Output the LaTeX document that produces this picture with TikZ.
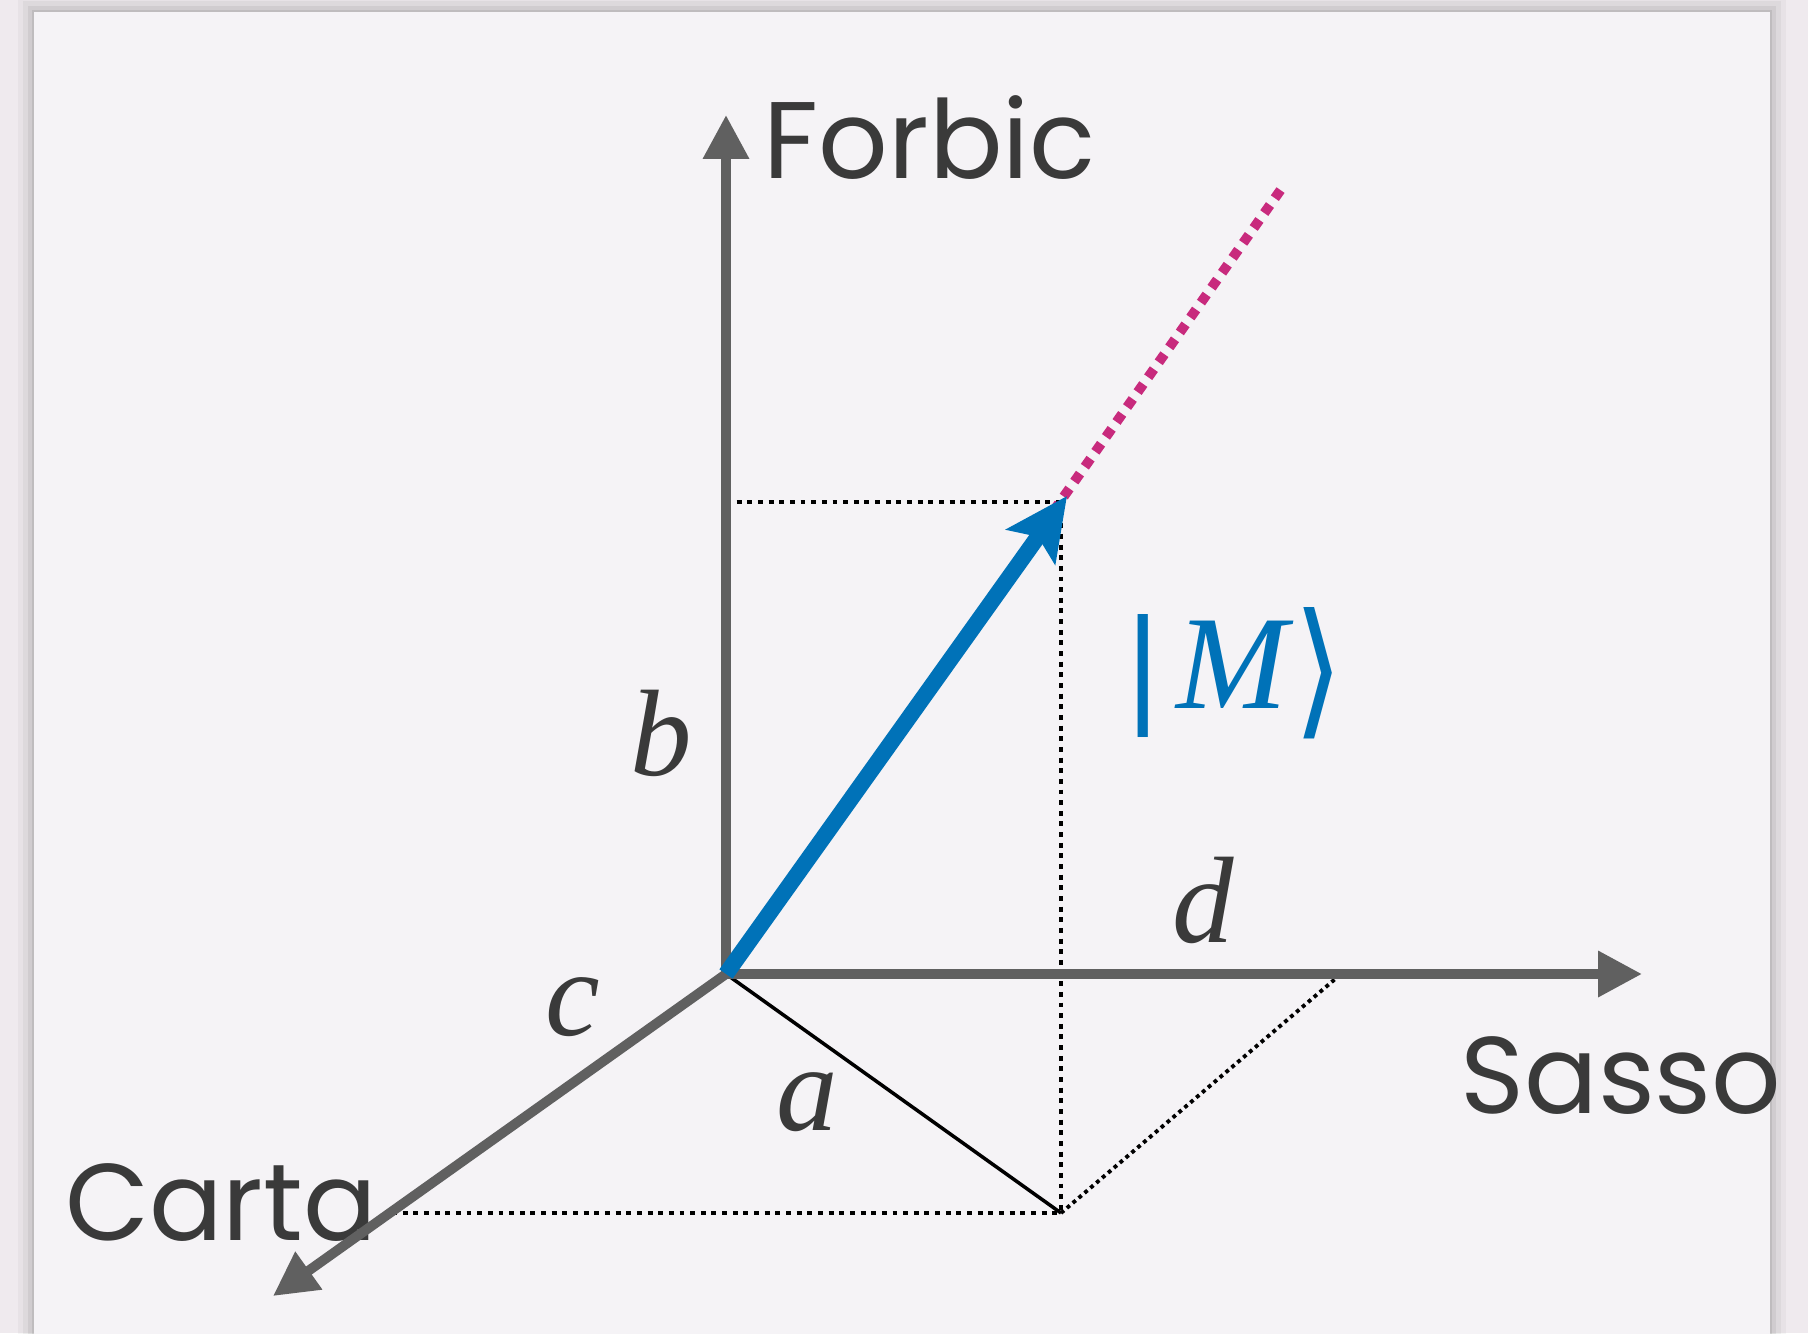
\documentclass[tikz,border=0pt]{standalone}
\usepackage{fontspec}
\setmainfont{Liberation Serif}
\newfontfamily\axisfont{Poppins}
\newfontfamily\ketfont{DejaVu Sans}
\usetikzlibrary{arrows.meta}
\definecolor{pagebg}{RGB}{239,234,238}
\definecolor{cardbg}{RGB}{245,243,246}
\definecolor{axisgrey}{RGB}{96,96,96}
\definecolor{inkdark}{RGB}{58,58,58}
\definecolor{vecblue}{RGB}{0,114,184}
\definecolor{projpink}{RGB}{200,42,125}

\begin{document}
\begin{tikzpicture}[
  axis/.style={draw=axisgrey, line width=2.8pt, -{Triangle[length=4.4mm, width=4.4mm]}},
  axlabel/.style={inner sep=0pt, text=inkdark, font=\axisfont\fontsize{31}{31}\selectfont},
  comp/.style={inner sep=0pt, text=inkdark, font=\fontsize{35}{35}\selectfont\itshape},
  guide/.style={draw=black, line width=1.4pt, dash pattern=on 1.4pt off 1.63pt},
  fineguide/.style={draw=black, line width=1.1pt, dash pattern=on 1.1pt off 1.1pt},
  ray/.style={draw=projpink, line width=2.8pt, dash pattern=on 2.8pt off 2.4pt},
  vec/.style={draw=vecblue, line width=4.6pt, -{Stealth[length=6.2mm, width=5.9mm, inset=1.2mm]}},
]
\useasboundingbox (0,0) rectangle (18.08,13.33);

% ===================== card =====================
\fill[pagebg] (0,0) rectangle (18.08,13.33);
\foreach \s/\o in {0.16/0.03, 0.11/0.04, 0.06/0.06, 0.02/0.08}
  \fill[black, opacity=\o] (0.34-\s,-1) rectangle (17.70+\s,13.21+\s);
\fill[cardbg] (0.34,-1) rectangle (17.70,13.21);

% ===================== points =====================
\coordinate (O)     at (7.26,3.59);
\coordinate (ytip)  at (7.26,12.18);
\coordinate (xtip)  at (16.42,3.59);
\coordinate (ztip)  at (2.73,0.37);
\coordinate (M)     at (10.67,8.37);
\coordinate (far)   at (12.82,11.45);
\coordinate (bproj) at (7.26,8.31);
\coordinate (top)   at (10.61,8.31);
\coordinate (P)     at (10.61,1.20);
\coordinate (cproj) at (3.92,1.20);
\coordinate (aproj) at (13.41,3.59);

% axis names
\node[axlabel, anchor=base west] (forbic) at (7.63,11.54) {Forbic};
\node[axlabel, anchor=base] (sasso) at (16.21,2.20) {Sasso};
\node[axlabel, anchor=base] (carta) at (2.21,0.93) {Carta};

% projections
\draw[guide] (bproj) -- (top);
\draw[guide] (top) -- (P);
\draw[guide] (cproj) -- (P);
\draw[fineguide] (P) -- (aproj);
\draw[draw=black, line width=1pt] (O) -- (P);

% ray of the state
\draw[ray] (O) -- (far);

% axes
\draw[axis] (O) -- (ytip);
\draw[axis] (O) -- (xtip);
\draw[axis] (O) -- (ztip);

% state vector
\draw[vec] (O) -- (M);

% components
\node[comp, anchor=base] (lb) at (6.61,5.58) {b};
\node[comp, anchor=base] (lc) at (5.73,2.98) {c};
\node[comp, anchor=base] (la) at (8.07,2.03) {a};
\node[comp, anchor=base] (ld) at (12.03,3.91) {d};
\node[inner sep=0pt, text=vecblue, anchor=base west, font=\fontsize{35}{35}\selectfont] (ket)
  at (11.22,6.25) {{\ketfont|}\hspace{1.2mm}{\fontsize{38}{38}\selectfont\textit{M}}%
  \raisebox{-1.1mm}{\scalebox{1.05}[1.2]{\ketfont ⟩}}};

\end{tikzpicture}
\end{document}
